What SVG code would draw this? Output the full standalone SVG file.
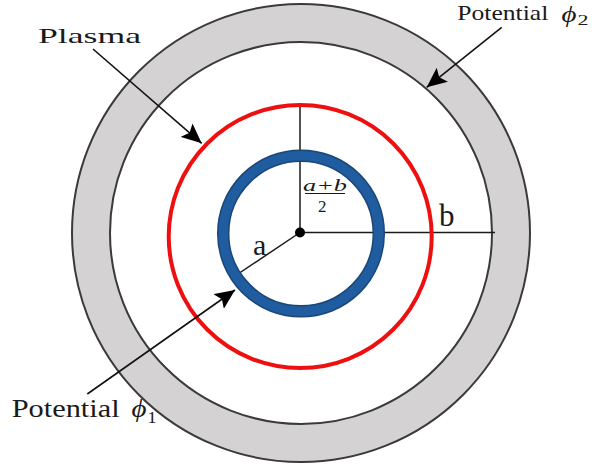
<svg xmlns="http://www.w3.org/2000/svg" width="605" height="473" viewBox="0 0 605 473">
<defs>
<style>
.edge{fill:none;stroke:#3a3a3a;stroke-width:2}
.ln{fill:none;stroke:#1a1a1a;stroke-width:1.5}
.arr{fill:none;stroke:#111;stroke-width:1.6;marker-end:url(#ah)}
.t{font-family:"Liberation Serif","DejaVu Serif",serif;fill:#1a1a1a}
.m{font-family:"Liberation Serif","DejaVu Serif",serif;font-style:italic;fill:#1a1a1a}
</style>
<marker id="ah" viewBox="0 0 20 18" refX="20" refY="9" markerWidth="20" markerHeight="18" markerUnits="userSpaceOnUse" orient="auto">
<path d="M20,9 L0,0 L4,9 L0,18 Z" fill="#000"/>
</marker>
</defs>
<rect width="605" height="473" fill="#fff"/>
<g id="outer-electrode">
<circle cx="301" cy="233" r="210" fill="none" stroke="#d5d2d3" stroke-width="38"/>
<circle class="edge" cx="301" cy="233" r="229"/>
<circle class="edge" cx="301" cy="233" r="191"/>
</g>
<g id="radii">
<line class="ln" x1="300" y1="232.5" x2="300" y2="105"/>
<line class="ln" x1="300" y1="232.5" x2="495" y2="232.5"/>
<line class="ln" x1="300" y1="232.5" x2="232" y2="278"/>
</g>
<g id="plasma-boundary">
<circle cx="300.2" cy="236.5" r="131.5" fill="none" stroke="#ee1010" stroke-width="4"/>
</g>
<g id="inner-electrode">
<circle cx="301" cy="233.5" r="77.8" fill="none" stroke="#1b4778" stroke-width="12.5"/>
<circle cx="301" cy="233.5" r="77.8" fill="none" stroke="#1f5da0" stroke-width="9.5"/>
</g>
<g id="center">
<circle cx="300" cy="232.5" r="5" fill="#000"/>
</g>
<g id="connectors">
<line class="arr" x1="93" y1="49" x2="201.7" y2="143.3"/>
<line class="arr" x1="501.7" y1="27.3" x2="426.7" y2="87.3"/>
<line class="arr" x1="87.3" y1="394" x2="235" y2="290"/>
</g>
<g id="labels">
<text class="t" x="38" y="42.7" font-size="22" textLength="103" lengthAdjust="spacingAndGlyphs">Plasma</text>
<text class="t" x="457.3" y="20" font-size="22" textLength="91" lengthAdjust="spacingAndGlyphs">Potential</text>
<text class="m" x="561.5" y="22" font-size="23" textLength="15" lengthAdjust="spacingAndGlyphs">ϕ</text>
<text class="t" x="577.5" y="24.5" font-size="15" textLength="11" lengthAdjust="spacingAndGlyphs">2</text>
<text class="t" x="11.7" y="417.3" font-size="25" textLength="108" lengthAdjust="spacingAndGlyphs">Potential</text>
<text class="m" x="131.5" y="417" font-size="25" textLength="15" lengthAdjust="spacingAndGlyphs">ϕ</text>
<text class="t" x="147.5" y="422.5" font-size="16" textLength="9" lengthAdjust="spacingAndGlyphs">1</text>
<text class="t" x="253" y="255" font-size="30">a</text>
<text class="t" x="439" y="226" font-size="31">b</text>
<text class="m" x="303" y="190.7" font-size="17" textLength="44" lengthAdjust="spacingAndGlyphs">a+b</text>
<line x1="305" y1="193.5" x2="345" y2="193.5" stroke="#1a1a1a" stroke-width="1.2"/>
<text class="t" x="318" y="211.7" font-size="17">2</text>
</g>
</svg>
